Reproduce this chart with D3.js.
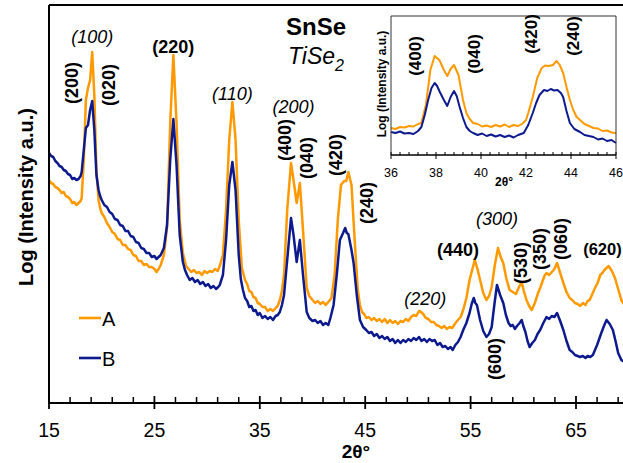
<!DOCTYPE html>
<html><head><meta charset="utf-8">
<script src="https://cdn.jsdelivr.net/npm/d3@7"></script>
<style>body{margin:0;background:#fff}svg{display:block;font-family:Arial,"Liberation Sans",Helvetica,sans-serif}</style>
</head><body>
<svg id="c" width="623" height="463"></svg>
<script>
// ---------- data (2θ in degrees, log intensity in arbitrary units) ----------
const seriesNames = ["A", "B"];
const seriesColors = ["#FF9900", "#0D1A8E"];

const thetaA = [15.0,15.2,15.4,15.6,15.8,16.0,16.2,16.4,16.6,16.8,17.0,17.2,17.4,17.6,17.8,18.0,18.1,
18.3,18.5,18.7,18.9,19.1,19.3,19.5,19.7,19.85,20.0,
20.25,20.5,20.75,21.0,21.25,21.5,21.75,22.0,22.25,22.5,22.75,23.0,23.25,23.5,23.75,24.0,24.25,24.5,24.75,25.0,25.2,25.4,
25.6,25.9,26.2,26.5,26.8,27.1,27.4,27.7,28.0,
28.25,28.5,28.75,29.0,29.25,29.5,29.75,30.0,30.25,30.5,30.75,31.0,31.2,31.5,31.8,32.1,32.4,32.7,33.0,33.3,33.6,
33.8,34.0,34.2,34.4,34.6,34.8,35.0,35.25,35.5,35.75,36.0,36.25,36.5,36.7,36.9,37.1,37.3,37.6,37.96,38.2,38.5,38.8,39.1,39.45,39.7,
40.0,40.25,40.5,40.75,41.0,41.25,41.5,41.8,42.1,42.4,42.7,43.0,43.2,43.4,43.7,44.0,44.3,44.5,44.7,
44.9,45.1,45.35,45.6,45.85,46.1,46.35,46.6,46.85,47.1,47.35,47.6,47.85,48.1,48.35,48.6,48.85,49.1,49.35,49.6,
49.85,50.1,50.3,50.5,50.75,51.0,51.25,51.5,51.75,52.0,52.25,52.5,52.75,53.0,53.25,53.5,53.8,54.05,54.3,54.6,
54.9,55.15,55.4,55.65,55.9,56.2,56.5,56.75,57.0,57.3,57.6,57.85,58.1,58.4,58.7,59.0,59.3,59.55,59.85,60.05,
60.3,60.55,60.8,61.1,61.4,61.6,61.8,62.0,62.2,62.45,62.7,62.95,63.2,63.5,63.8,64.1,64.4,64.65,64.9,65.15,
65.4,65.65,65.9,66.1,66.3,66.55,66.8,67.05,67.3,67.5,67.7,67.9,68.1,68.4,68.7,69.0,69.3,69.6];
const logA = [3.23,3.20,3.19,3.16,3.15,3.13,3.10,3.11,3.07,3.06,3.04,3.00,3.01,2.98,3.00,3.02,3.05,
3.43,4.03,4.15,4.23,4.51,4.08,3.33,3.03,2.95,2.90,
2.86,2.80,2.76,2.71,2.69,2.64,2.63,2.58,2.58,2.54,2.53,2.48,2.47,2.42,2.42,2.38,2.39,2.36,2.36,2.34,2.31,2.34,
2.38,2.48,2.76,3.80,4.48,3.80,2.83,2.50,2.37,
2.34,2.31,2.33,2.30,2.31,2.28,2.32,2.30,2.32,2.31,2.34,2.32,2.37,2.48,2.93,3.63,4.01,3.63,2.83,2.35,2.23,
2.19,2.12,2.11,2.06,2.05,2.00,1.99,1.96,1.96,1.92,1.94,1.92,1.95,1.97,2.03,2.12,2.28,2.93,3.40,3.23,3.00,3.20,2.73,2.15,2.07,
2.03,2.00,2.02,1.99,2.01,1.98,2.01,2.05,2.28,2.83,3.18,3.22,3.22,3.31,3.18,2.63,2.13,1.98,1.91,
1.89,1.85,1.86,1.83,1.85,1.82,1.84,1.81,1.84,1.80,1.83,1.80,1.82,1.79,1.82,1.81,1.84,1.82,1.86,1.88,
1.87,1.92,1.91,1.89,1.85,1.84,1.81,1.81,1.78,1.77,1.75,1.77,1.74,1.76,1.75,1.79,1.83,1.86,1.93,2.05,
2.23,2.33,2.43,2.34,2.23,2.10,2.03,2.07,2.16,2.38,2.55,2.46,2.40,2.24,2.13,2.11,2.09,2.15,2.21,2.12,
2.03,1.97,1.93,2.00,2.10,2.15,2.21,2.27,2.30,2.28,2.31,2.34,2.40,2.30,2.20,2.11,2.05,2.03,2.00,1.99,
1.97,2.00,1.98,2.02,2.03,2.09,2.15,2.20,2.28,2.30,2.33,2.35,2.37,2.32,2.25,2.14,2.03,1.98];

const thetaB = [15.0,15.2,15.4,15.6,15.8,16.0,16.2,16.4,16.6,16.8,17.0,17.2,17.4,17.6,17.8,18.0,18.1,
18.3,18.5,18.7,18.9,19.1,19.3,19.5,19.7,19.85,20.0,
20.25,20.5,20.75,21.0,21.25,21.5,21.75,22.0,22.25,22.5,22.75,23.0,23.25,23.5,23.75,24.0,24.25,24.5,24.75,25.0,25.2,25.4,
25.6,25.9,26.2,26.5,26.8,27.1,27.4,27.7,27.9,28.1,
28.35,28.6,28.85,29.1,29.35,29.6,29.85,30.1,30.35,30.6,30.85,31.05,31.2,31.5,31.8,32.1,32.4,32.7,33.0,33.2,33.4,33.6,33.8,
34.0,34.2,34.4,34.6,34.8,35.0,35.25,35.5,35.75,36.0,36.25,36.5,36.7,36.9,37.1,37.3,37.6,37.96,38.2,38.5,38.8,39.1,39.45,39.7,
40.0,40.25,40.5,40.75,41.0,41.25,41.5,41.7,42.0,42.3,42.6,42.9,43.1,43.25,43.4,43.7,43.9,44.2,44.5,44.8,
45.1,45.35,45.6,45.85,46.1,46.35,46.6,46.85,47.1,47.35,47.6,47.85,48.1,48.35,48.6,48.85,49.1,49.35,49.6,49.85,
50.1,50.35,50.6,50.85,51.1,51.35,51.6,51.85,52.1,52.35,52.6,52.85,53.1,53.3,53.55,53.8,54.05,54.3,54.6,54.9,
55.1,55.3,55.45,55.6,55.9,56.2,56.5,56.75,57.0,57.25,57.5,57.8,58.1,58.35,58.6,58.8,59.0,59.2,59.4,59.65,
59.85,60.0,60.2,60.4,60.6,60.85,61.1,61.35,61.6,61.9,62.2,62.45,62.7,62.95,63.2,63.5,63.8,64.1,64.4,64.65,
64.9,65.15,65.4,65.65,65.9,66.1,66.35,66.6,66.8,67.0,67.2,67.4,67.65,67.9,68.2,68.5,68.75,69.0,69.3,69.6];
const logB = [3.50,3.47,3.46,3.42,3.40,3.37,3.36,3.33,3.32,3.29,3.28,3.24,3.25,3.23,3.24,3.27,3.31,
3.53,3.75,3.78,3.93,4.02,3.73,3.28,3.13,3.07,3.03,
2.98,2.96,2.91,2.89,2.84,2.83,2.78,2.77,2.72,2.72,2.67,2.66,2.61,2.60,2.55,2.54,2.50,2.50,2.46,2.47,2.44,2.46,
2.48,2.55,2.78,3.43,3.84,3.38,2.68,2.41,2.33,2.28,
2.23,2.25,2.21,2.23,2.19,2.21,2.17,2.19,2.15,2.17,2.14,2.16,2.18,2.28,2.63,3.18,3.41,3.13,2.48,2.24,2.13,2.05,2.02,
1.96,1.97,1.92,1.93,1.88,1.90,1.85,1.87,1.84,1.86,1.83,1.87,1.88,1.91,1.98,2.08,2.43,2.85,2.68,2.41,2.63,2.28,1.91,1.85,
1.82,1.83,1.80,1.82,1.78,1.80,1.78,1.85,1.98,2.28,2.63,2.70,2.75,2.70,2.69,2.53,2.40,2.08,1.83,1.76,
1.73,1.70,1.71,1.67,1.69,1.65,1.67,1.64,1.66,1.62,1.64,1.60,1.63,1.60,1.63,1.61,1.64,1.62,1.65,1.63,
1.66,1.62,1.64,1.61,1.64,1.62,1.63,1.58,1.60,1.56,1.57,1.54,1.56,1.53,1.58,1.61,1.66,1.73,1.80,1.90,
1.99,2.05,2.00,1.98,1.83,1.72,1.66,1.69,1.76,1.98,2.18,2.08,2.00,1.88,1.80,1.77,1.78,1.74,1.77,1.80,
1.83,1.77,1.71,1.62,1.56,1.60,1.63,1.69,1.73,1.80,1.86,1.84,1.87,1.86,1.90,1.82,1.73,1.62,1.53,1.51,
1.48,1.47,1.46,1.47,1.45,1.47,1.46,1.48,1.53,1.58,1.64,1.70,1.77,1.83,1.79,1.73,1.62,1.50,1.43,1.41];

// inset (zoom of 36–46°)
const insetThetaA = [36.0,36.2,36.4,36.6,36.8,37.0,37.2,37.35,37.55,37.75,37.94,38.15,38.35,38.5,38.65,38.8,39.0,39.2,39.35,39.5,39.65,39.85,40.05,40.25,40.45,40.65,40.85,41.05,41.25,41.45,41.65,41.85,42.0,42.1,42.3,42.5,42.7,42.85,43.0,43.2,43.36,43.5,43.65,43.8,43.95,44.1,44.25,44.4,44.6,44.8,45.0,45.2,45.4,45.6,45.8,46.0];
const insetLogA = [3.54,3.52,3.56,3.55,3.58,3.57,3.62,3.64,4.00,4.70,4.98,4.90,4.70,4.58,4.72,4.80,4.60,4.10,3.84,3.72,3.64,3.62,3.57,3.59,3.56,3.60,3.57,3.61,3.56,3.60,3.58,3.63,3.70,3.84,4.16,4.54,4.74,4.79,4.78,4.80,4.88,4.80,4.64,4.36,4.10,3.90,3.76,3.70,3.62,3.58,3.54,3.53,3.48,3.49,3.45,3.44];
const insetThetaB = [36.0,36.2,36.4,36.6,36.8,37.0,37.2,37.35,37.5,37.65,37.8,37.94,38.05,38.17,38.35,38.5,38.65,38.8,38.92,39.05,39.2,39.35,39.5,39.65,39.85,40.05,40.25,40.45,40.65,40.85,41.05,41.25,41.45,41.65,41.9,42.1,42.3,42.45,42.6,42.8,42.95,43.1,43.25,43.4,43.55,43.65,43.8,43.95,44.15,44.4,44.6,44.8,45.0,45.2,45.4,45.6,45.8,46.0];
const insetLogB = [3.46,3.44,3.47,3.43,3.44,3.42,3.48,3.56,3.80,4.10,4.34,4.44,4.38,4.26,4.10,3.98,4.16,4.28,4.18,3.96,3.74,3.56,3.48,3.44,3.40,3.43,3.38,3.41,3.37,3.40,3.36,3.39,3.35,3.40,3.44,3.60,3.84,4.04,4.20,4.30,4.28,4.32,4.29,4.30,4.24,4.16,3.88,3.64,3.52,3.46,3.40,3.38,3.36,3.31,3.33,3.28,3.30,3.24];

const mainTicks = [15, 25, 35, 45, 55, 65];
const insetTicks = [36, 38, 40, 42, 44, 46];

// peak labels: [text, 2θ, logY, rotated, style]
const peakLabels = [
  ["(100)", 19.1, 4.6, false, "italic"],
  ["(200)", 17.2, 4.2, true, "bold"],
  ["(020)", 20.7, 4.18, true, "bold"],
  ["(220)", 26.8, 4.5, false, "bold"],
  ["(110)", 32.4, 4.03, false, "italic"],
  ["(200)", 38.2, 3.9, false, "italic"],
  ["(400)", 37.4, 3.63, true, "bold"],
  ["(040)", 39.5, 3.45, true, "bold"],
  ["(420)", 42.2, 3.48, true, "bold"],
  ["(240)", 45.2, 3.0, true, "bold"],
  ["(220)", 50.7, 1.98, false, "italic"],
  ["(300)", 57.5, 2.78, false, "italic"],
  ["(440)", 53.8, 2.47, false, "bold"],
  ["(530)", 59.8, 2.4, true, "bold"],
  ["(350)", 61.6, 2.54, true, "bold"],
  ["(060)", 63.6, 2.64, true, "bold"],
  ["(620)", 65.68, 2.48, false, "bold-start"],
  ["(600)", 57.3, 1.44, true, "bold"]
];
const insetLabels = [
  ["(400)", 37.06, 4.98],
  ["(040)", 39.68, 5.02],
  ["(420)", 42.2, 5.42],
  ["(240)", 44.07, 5.38]
];

// ---------- drawing ----------
const svg = d3.select("#c");
const W = 623, H = 463;
const M = {left: 49, top: 5, bottom: 403};

const x = d3.scaleLinear().domain([15, 70]).range([M.left, M.left + 55 * 10.54]);
const y = d3.scaleLinear().domain([1.0, 4.98]).range([M.bottom, M.top]);

svg.append("defs").append("clipPath").attr("id", "mclip")
  .append("rect").attr("x", M.left).attr("y", M.top).attr("width", W - M.left).attr("height", M.bottom - M.top);

const line = (xs, ys) => d3.line().x(d => xs(d[0])).y(d => ys(d[1])).curve(d3.curveLinear);

const mainSeries = [d3.zip(thetaA, logA), d3.zip(thetaB, logB)];
const g = svg.append("g").attr("clip-path", "url(#mclip)");
mainSeries.forEach((s, i) => {
  g.append("path").datum(s).attr("fill", "none").attr("stroke", seriesColors[i])
    .attr("stroke-width", 2.5).attr("stroke-linejoin", "round")
    .attr("d", line(x, y));
});

// frame: left axis + top line
svg.append("line").attr("x1", M.left).attr("x2", M.left).attr("y1", M.top).attr("y2", M.bottom)
  .attr("stroke", "#000").attr("stroke-width", 2);
svg.append("line").attr("x1", M.left).attr("x2", W).attr("y1", M.top).attr("y2", M.top)
  .attr("stroke", "#000").attr("stroke-width", 2);

// bottom axis
const xAxis = svg.append("g").attr("transform", `translate(0,${M.bottom})`);
xAxis.append("line").attr("x1", M.left).attr("x2", W).attr("stroke", "#000").attr("stroke-width", 2);
d3.range(15, 70, 2).forEach(t => {
  if (mainTicks.includes(t)) return;
  xAxis.append("line").attr("x1", x(t)).attr("x2", x(t)).attr("y1", -6).attr("y2", 0)
    .attr("stroke", "#000").attr("stroke-width", 1.5);
});
mainTicks.forEach(t => {
  xAxis.append("line").attr("x1", x(t)).attr("x2", x(t)).attr("y1", -7).attr("y2", 6)
    .attr("stroke", "#000").attr("stroke-width", 1.8);
  xAxis.append("text").attr("x", x(t)).attr("y", 34).attr("text-anchor", "middle")
    .attr("font-size", 19.5).attr("fill", "#000").text(t);
});
svg.append("text").attr("x", 356).attr("y", 458).attr("text-anchor", "middle")
  .attr("font-size", 19).attr("font-weight", "bold").text("2θ°");
svg.append("text").attr("transform", "translate(33,197) rotate(-90)").attr("text-anchor", "middle")
  .attr("font-size", 20).attr("font-weight", "bold").text("Log (Intensity a.u.)");

// titles
svg.append("text").attr("x", 316).attr("y", 35).attr("text-anchor", "middle")
  .attr("font-size", 24).attr("font-weight", "bold").text("SnSe");
const ti = svg.append("text").attr("x", 316).attr("y", 64).attr("text-anchor", "middle")
  .attr("font-size", 23).attr("font-style", "italic");
ti.append("tspan").text("TiSe");
ti.append("tspan").attr("font-size", 16).attr("dy", 7).text("2");

// peak labels
peakLabels.forEach(([t, th, lv, rot, st]) => {
  const px = x(th), py = y(lv);
  const txt = svg.append("text").attr("font-size", st === "bold-start" ? 16.5 : 18).attr("fill", "#000")
    .attr("font-weight", st.startsWith("bold") ? "bold" : "normal")
    .attr("font-style", st === "italic" ? "italic" : "normal")
    .text(t);
  if (rot) {
    txt.attr("transform", `translate(${px + 6},${py}) rotate(-90)`).attr("text-anchor", "middle");
  } else {
    txt.attr("x", px).attr("y", py).attr("text-anchor", st === "bold-start" ? "start" : "middle");
  }
});

// legend
seriesNames.forEach((n, i) => {
  const ly = [318, 358][i];
  svg.append("line").attr("x1", 79).attr("x2", 101).attr("y1", ly).attr("y2", ly)
    .attr("stroke", seriesColors[i]).attr("stroke-width", 2.6);
  svg.append("text").attr("x", 102).attr("y", ly + 8).attr("font-size", 20).text(n);
});

// ---------- inset ----------
const IX = [391, 616], IY = [155, 16];
const xi = d3.scaleLinear().domain([36, 46]).range(IX);
const yi = d3.scaleLinear().domain([3.0, 5.78]).range(IY);
const ig = svg.append("g");
ig.append("rect").attr("x", IX[0]).attr("y", IY[1]).attr("width", IX[1] - IX[0]).attr("height", IY[0] - IY[1])
  .attr("fill", "#fff").attr("stroke", "none");
[d3.zip(insetThetaA, insetLogA), d3.zip(insetThetaB, insetLogB)].forEach((s, i) => {
  ig.append("path").datum(s).attr("fill", "none").attr("stroke", seriesColors[i])
    .attr("stroke-width", 2).attr("stroke-linejoin", "round").attr("d", line(xi, yi));
});
ig.append("path").attr("d", `M${IX[0]},${IY[0]}V${IY[1]}H${IX[1]}V${IY[0]}`)
  .attr("fill", "none").attr("stroke", "#333").attr("stroke-width", 1);
ig.append("line").attr("x1", IX[0]).attr("x2", IX[1]).attr("y1", IY[0]).attr("y2", IY[0])
  .attr("stroke", "#000").attr("stroke-width", 1.5);
d3.range(0, 26).forEach(k => {
  const t = 36 + k * 0.4;
  const major = insetTicks.some(v => Math.abs(v - t) < 1e-6);
  ig.append("line").attr("x1", xi(t)).attr("x2", xi(t)).attr("y1", IY[0] - 3).attr("y2", IY[0] + (major ? 4 : 0))
    .attr("stroke", "#000").attr("stroke-width", 1);
});
insetTicks.forEach(t => {
  ig.append("text").attr("x", xi(t)).attr("y", 177).attr("text-anchor", "middle")
    .attr("font-size", 12.5).text(t);
});
ig.append("text").attr("x", 504).attr("y", 186).attr("text-anchor", "middle")
  .attr("font-size", 12).attr("font-weight", "bold").text("2θ°");
ig.append("text").attr("transform", "translate(386,84) rotate(-90)").attr("text-anchor", "middle")
  .attr("font-size", 12).attr("font-weight", "bold").text("Log (Intensity a.u.)");
insetLabels.forEach(([t, th, lv]) => {
  ig.append("text").attr("transform", `translate(${xi(th) + 6},${yi(lv)}) rotate(-90)`)
    .attr("text-anchor", "middle").attr("font-size", 17).attr("font-weight", "bold").text(t);
});
</script>
</body></html>
